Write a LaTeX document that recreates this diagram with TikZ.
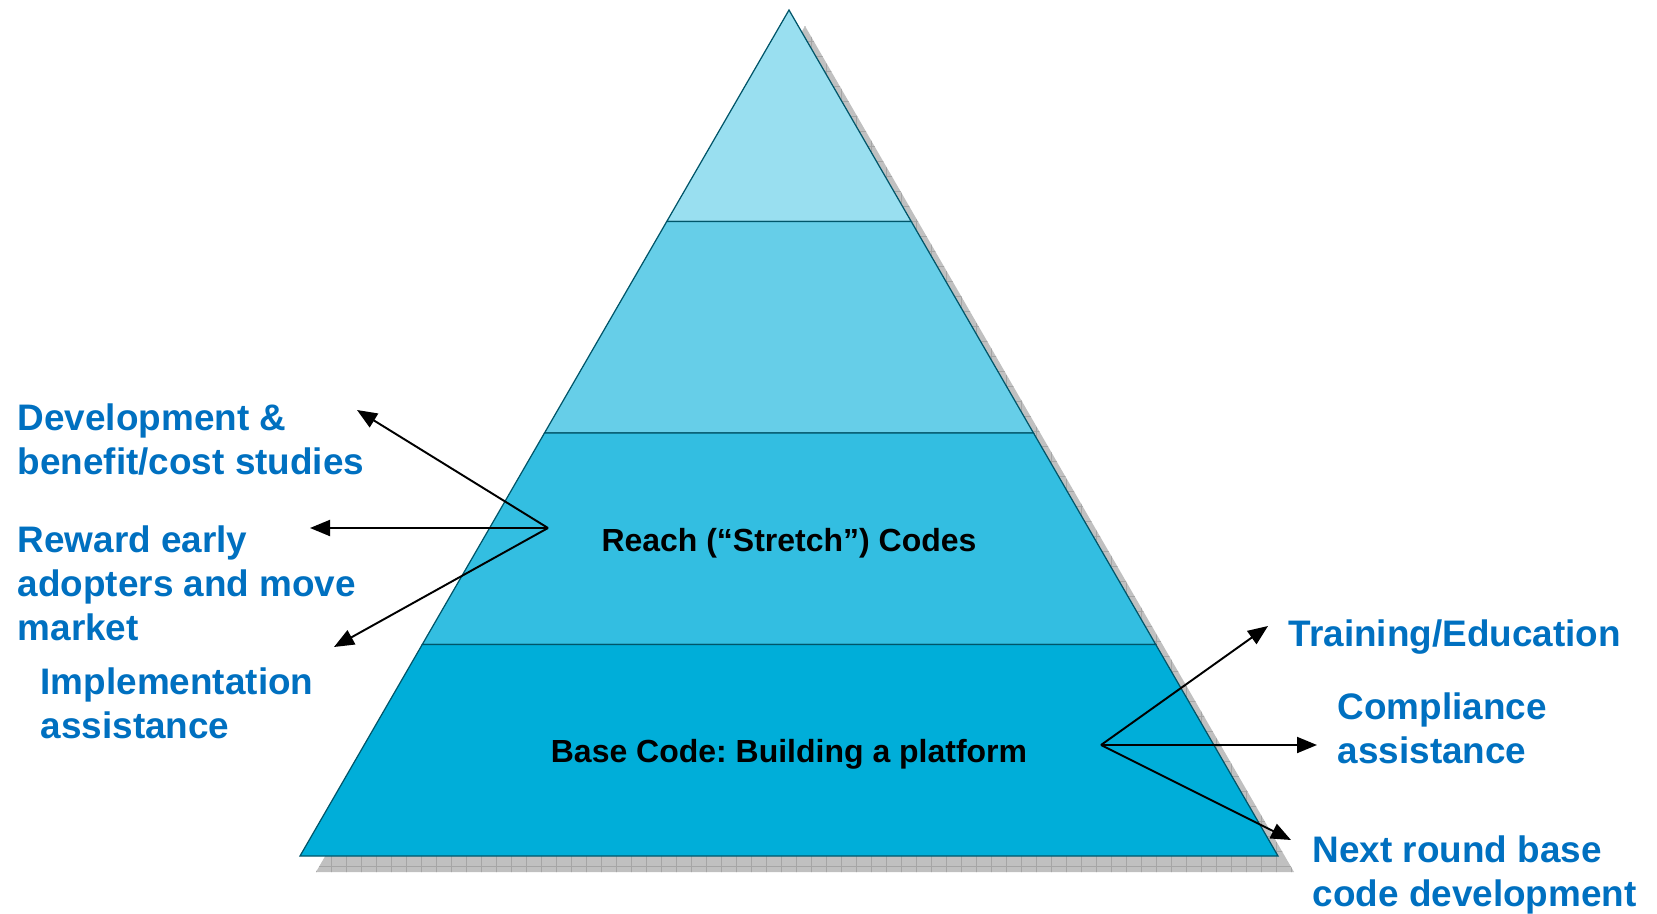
\documentclass[tikz,border=0pt]{standalone}
\usepackage{fontspec}
\setmainfont{Liberation Sans}
\usetikzlibrary{arrows.meta}
\frenchspacing

\definecolor{tierbase}{RGB}{0,174,217}
\colorlet{tierthree}{tierbase!80!white}
\colorlet{tiertwo}{tierbase!60!white}
\colorlet{tiertop}{tierbase!40!white}
\definecolor{edgeteal}{RGB}{0,85,105}
\definecolor{labelblue}{RGB}{0,112,192}
\definecolor{shadowgray}{RGB}{192,192,192}
\definecolor{gridgray}{RGB}{165,165,165}

\begin{document}
\begin{tikzpicture}[
    x=0.1mm, y=-0.1mm,
    % Define styles
    tier/.style={
        draw=edgeteal,
        line width=0.35pt
    },
    sidelabel/.style={
        font=\fontsize{10.5}{12.5}\selectfont\bfseries,
        text=labelblue,
        align=left,
        inner sep=0pt,
        anchor=base west
    },
    tierlabel/.style={
        font=\fontsize{9.1}{11}\selectfont\bfseries,
        inner sep=0pt
    },
    arrow/.style={
        -{Triangle[length=2mm, width=1.6mm]},
        line width=0.55pt
    }
]

% Page frame (units are pixels of the original, y down)
\useasboundingbox (0,0) rectangle (1657,914);

% Grey tiled shadow behind the pyramid
\begin{scope}
    \clip (805,26) -- (316,872) -- (1294,872) -- cycle;
    \fill[shadowgray] (300,20) rectangle (1300,880);
    \foreach \gx in {301,316,...,1300}
        \draw[gridgray, line width=0.25pt] (\gx,20) -- (\gx,880);
    \foreach \gy in {26,41,...,872}
        \draw[gridgray, line width=0.25pt] (300,\gy) -- (1300,\gy);
\end{scope}

% Pyramid tiers, top to bottom
\filldraw[tier, fill=tiertop] (789,10) -- (666.75,221.5) -- (911.25,221.5) -- cycle;
\filldraw[tier, fill=tiertwo] (666.75,221.5) -- (544.5,433) -- (1033.5,433) -- (911.25,221.5) -- cycle;
\filldraw[tier, fill=tierthree] (544.5,433) -- (422.25,644.5) -- (1155.75,644.5) -- (1033.5,433) -- cycle;
\filldraw[tier, fill=tierbase] (422.25,644.5) -- (300,856) -- (1278,856) -- (1155.75,644.5) -- cycle;

% Tier texts
\node[tierlabel] (reach) at (789,543) {Reach (“Stretch”) Codes};
\node[tierlabel] (base) at (789,754) {Base Code: Building a platform};

% Left side texts (anchored on the last line)
\node[sidelabel] (studies) at (17,474) {Development \&\\benefit/cost studies};
\node[sidelabel] (adopters) at (17,640) {Reward early\\adopters and move\\market};
\node[sidelabel] (implement) at (40,738) {Implementation\\assistance};

% Right side texts
\node[sidelabel] (training) at (1288,646) {Training/Education};
\node[sidelabel] (compliance) at (1337,763) {Compliance\\assistance};
\node[sidelabel] (nextround) at (1312,906) {Next round base\\code development};

% Fan of arrows from the reach tier
\coordinate (reachfan) at (548,528);
\coordinate (studiestip) at (357,410);
\coordinate (adopterstip) at (310,528);
\coordinate (implementtip) at (334,647);
\draw[arrow] (reachfan) -- (studiestip);
\draw[arrow] (reachfan) -- (adopterstip);
\draw[arrow] (reachfan) -- (implementtip);

% Fan of arrows from the base tier
\coordinate (basefan) at (1101,745);
\coordinate (trainingtip) at (1268,626);
\coordinate (compliancetip) at (1317,745);
\coordinate (nextroundtip) at (1291,840);
\draw[arrow] (basefan) -- (trainingtip);
\draw[arrow] (basefan) -- (compliancetip);
\draw[arrow] (basefan) -- (nextroundtip);
\end{tikzpicture}
\end{document}
